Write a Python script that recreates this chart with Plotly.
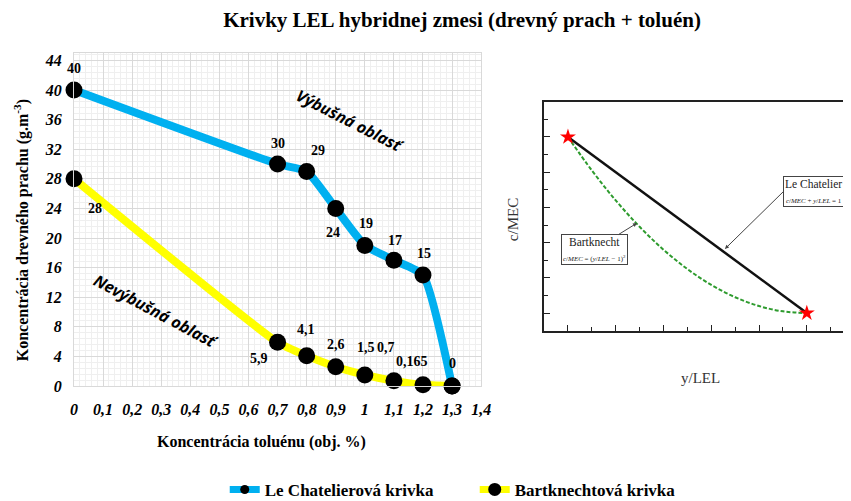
import plotly.graph_objects as go

# Hodnoty odcitane z grafu
toluen = [0, 0.7, 0.8, 0.9, 1.0, 1.1, 1.2, 1.3]
le_chatelier = [40, 30, 29, 24, 19, 17, 15, 0]
bartknecht = [28, 5.9, 4.1, 2.6, 1.5, 0.7, 0.165, 0]
le_chat_labels = ['40', '30', '29', '24', '19', '17', '15', '0']
bart_labels = ['28', '5,9', '4,1', '2,6', '1,5', '0,7', '0,165', '0']

# schematicky obrazok vpravo (y/LEL, c/MEC)
schema_x = [0, 0.1, 0.2, 0.3, 0.4, 0.5, 0.6, 0.7, 0.8, 0.9, 1.0]
schema_lin = [1, 0.9, 0.8, 0.7, 0.6, 0.5, 0.4, 0.3, 0.2, 0.1, 0]
schema_bart = [1, 0.81, 0.64, 0.49, 0.36, 0.25, 0.16, 0.09, 0.04, 0.01, 0]
schema_stars_x = [0, 1]
schema_stars_y = [1, 0]

SERIF = 'Liberation Serif'
BLUE = '#00B0F0'
YELLOW = '#FFFF00'

fig = go.Figure()

fig.add_trace(go.Scatter(x=toluen, y=le_chatelier, mode='lines+markers', showlegend=False,
                         line=dict(color=BLUE, width=8, shape='spline', smoothing=0.5),
                         marker=dict(color='black', size=17), cliponaxis=False))
fig.add_trace(go.Scatter(x=toluen, y=bartknecht, mode='lines+markers', showlegend=False,
                         line=dict(color=YELLOW, width=8, shape='spline', smoothing=0.5),
                         marker=dict(color='black', size=17), cliponaxis=False))
# len pre legendu (mensie znacky ako v originali)
fig.add_trace(go.Scatter(x=[None], y=[None], mode='lines+markers', name='Le Chatelierová krivka',
                         line=dict(color=BLUE, width=7), marker=dict(color='black', size=9)))
fig.add_trace(go.Scatter(x=[None], y=[None], mode='lines+markers', name='Bartknechtová krivka',
                         line=dict(color=YELLOW, width=7), marker=dict(color='black', size=13)))

# inset
fig.add_trace(go.Scatter(x=schema_x, y=schema_lin, xaxis='x2', yaxis='y2', mode='lines',
                         line=dict(color='#111', width=2.5), showlegend=False))
fig.add_trace(go.Scatter(x=schema_x, y=schema_bart, xaxis='x2', yaxis='y2', mode='lines',
                         line=dict(color='#2E9B2E', width=2, dash='4px,2px', shape='spline'),
                         showlegend=False))
fig.add_trace(go.Scatter(x=schema_stars_x, y=schema_stars_y, xaxis='x2', yaxis='y2',
                         mode='markers', marker=dict(symbol='star', color='red', size=12),
                         showlegend=False, cliponaxis=False))

lab_font = dict(family=SERIF, size=14, color='black', weight='bold')
le_shift = [(0, 22), (0, 21), (11, 21), (-3, -24), (1, 22), (1, 20), (1, 22), (0, 23)]
bart_shift = [(21, -30), (-19, -16), (-1, 26), (0, 22), (1, 27), (-8, 33), (-11, 23)]
for xv, yv, t, s in zip(toluen, le_chatelier, le_chat_labels, le_shift):
    fig.add_annotation(x=xv, y=yv, text=t, showarrow=False, xshift=s[0], yshift=s[1], font=lab_font)
for xv, yv, t, s in zip(toluen, bartknecht, bart_labels, bart_shift):
    fig.add_annotation(x=xv, y=yv, text=t, showarrow=False, xshift=s[0], yshift=s[1], font=lab_font)

region_font = dict(family='Open Sans', size=16, color='black', weight='bold', style='italic')
fig.add_annotation(x=0.95, y=35.8, text='Výbušná oblasť', textangle=27, showarrow=False, font=region_font)
fig.add_annotation(x=0.28, y=10.1, text='Nevýbušná oblasť', textangle=28, showarrow=False, font=region_font)

# nazvy osi
title_font = dict(family=SERIF, size=16, color='black', weight='bold')
fig.add_annotation(xref='paper', yref='paper', x=-0.068, y=0.468, textangle=-90, showarrow=False,
                   xanchor='center', yanchor='middle',
                   text='Koncentrácia drevného prachu (g.m<sup>-3</sup>)', font=title_font)
fig.add_annotation(xref='paper', yref='paper', x=0.241, y=-0.168, showarrow=False,
                   xanchor='center', yanchor='middle',
                   text='Koncentrácia toluénu (obj. %)', font=title_font)

# popisky schemy
fig.add_annotation(xref='paper', yref='paper', x=0.565, y=0.498, text='c/MEC', textangle=-90,
                   xanchor='center', yanchor='middle',
                   showarrow=False, font=dict(family=SERIF, size=15, color='#333'))
fig.add_annotation(xref='paper', yref='paper', x=0.806, y=0.024, text='y/LEL',
                   xanchor='center', yanchor='middle',
                   showarrow=False, font=dict(family=SERIF, size=15, color='#333'))
fig.add_annotation(xref='x2', yref='y2', x=0.657, y=0.364, axref='x2', ayref='y2', ax=0.902, ay=0.69,
                   xanchor='left',
                   text='Le Chatelier<br><span style="font-size:7px"><i>c</i>/<i>MEC</i> + <i>y</i>/<i>LEL</i> = 1</span>',
                   showarrow=True, arrowhead=2, arrowsize=0.8, arrowwidth=1, arrowcolor='#444',
                   bordercolor='#444', borderwidth=1, bgcolor='white', borderpad=1,
                   font=dict(family=SERIF, size=11.5, color='#222'))
fig.add_annotation(xref='x2', yref='y2', x=0.289, y=0.511, axref='x2', ayref='y2', ax=0.109, ay=0.36,
                   text='Bartknecht<br><span style="font-size:7px"><i>c</i>/<i>MEC</i> = (<i>y</i>/<i>LEL</i> − 1)<sup>2</sup></span>',
                   showarrow=True, arrowhead=2, arrowsize=0.8, arrowwidth=1, arrowcolor='#444',
                   bordercolor='#444', borderwidth=1, bgcolor='white', borderpad=1,
                   font=dict(family=SERIF, size=11.5, color='#222'))

tick_font = dict(family=SERIF, size=16, color='black', weight='bold', style='italic')

fig.update_layout(
    width=843, height=493,
    margin=dict(l=66, r=0, t=45, b=115, autoexpand=False),
    paper_bgcolor='white', plot_bgcolor='white',
    separators=', ',
    title=dict(text='Krivky LEL hybridnej zmesi (drevný prach + toluén)', xref='container',
               x=0.5386, xanchor='center', yref='container', y=0.9757, yanchor='middle',
               font=dict(family=SERIF, size=21, color='black', weight='bold')),
    xaxis=dict(domain=[0, 0.524], range=[0, 1.4], dtick=0.1, tick0=0, automargin=False,
               showgrid=True, gridcolor='#d9d9d9', gridwidth=1,
               minor=dict(dtick=0.02, showgrid=True, gridcolor='#efefef'),
               showline=True, linecolor='#d9d9d9', mirror=True, zeroline=False,
               tickfont=tick_font, ticklabelstandoff=9),
    yaxis=dict(domain=[0, 1], range=[0, 45], dtick=4, tick0=0, automargin=False,
               showgrid=True, gridcolor='#d9d9d9', gridwidth=1,
               minor=dict(dtick=0.8, showgrid=True, gridcolor='#efefef'),
               showline=True, linecolor='#d9d9d9', mirror=True, zeroline=False,
               tickfont=tick_font, ticklabelstandoff=8),
    xaxis2=dict(domain=[0.605, 1], range=[-0.1, 1.185], anchor='y2', automargin=False,
                showgrid=False, zeroline=False, showticklabels=False,
                ticks='inside', ticklen=6, tickcolor='#222', tickvals=[0, 0.2, 0.4, 0.6, 0.8, 1.0],
                minor=dict(ticks='inside', ticklen=4, tickcolor='#222', dtick=0.1, tick0=0),
                showline=True, linecolor='#222', linewidth=2, mirror=True),
    yaxis2=dict(domain=[0.165, 0.853], range=[-0.102, 1.199], anchor='x2', automargin=False,
                showgrid=False, zeroline=False, showticklabels=False,
                ticks='inside', ticklen=6, tickcolor='#222', tickvals=[0, 0.2, 0.4, 0.6, 0.8, 1.0],
                minor=dict(ticks='inside', ticklen=4, tickcolor='#222', dtick=0.1, tick0=0),
                showline=True, linecolor='#222', linewidth=2),
    legend=dict(orientation='h', x=0.194, xanchor='left', y=-0.312, yanchor='middle',
                font=dict(family=SERIF, size=17, color='black', weight='bold'),
                itemwidth=30, entrywidth=205, tracegroupgap=0),
)

fig.write_html('out.html')
